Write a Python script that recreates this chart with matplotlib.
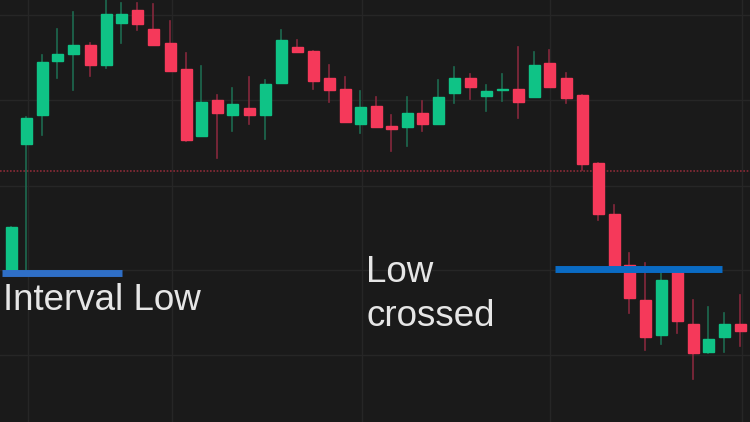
import matplotlib.pyplot as plt
from matplotlib.patches import Rectangle

# price units: 422 - pixel row of the reference
xs = [11, 26, 42, 57, 73, 90, 106, 121, 137, 153, 170, 186, 201, 217, 232, 249,
      265, 281, 297, 313, 329, 345, 360, 376, 391, 407, 422, 438, 454, 470, 486,
      502, 518, 534, 549, 566, 582, 598, 614, 629, 645, 661, 677, 693, 708, 724, 740]
ys_open = [270, 144, 115, 61, 54, 45, 65, 23, 10, 29, 43, 69, 136, 100, 115, 108,
           115, 83, 47, 51, 78, 89, 124, 106, 126, 127, 113, 124, 93, 78, 96,
           90, 89, 97, 63, 78, 95, 163, 214, 265, 300, 335, 270, 324, 352, 337, 324]
ys_close = [227, 118, 62, 54, 45, 65, 14, 14, 24, 45, 71, 140, 102, 113, 104, 115,
            84, 40, 52, 81, 90, 122, 107, 127, 129, 113, 124, 97, 78, 87, 91,
            89, 102, 65, 87, 98, 164, 214, 267, 298, 337, 280, 321, 353, 339, 324, 331]
ys_high = [227, 117, 55, 29, 12, 43, 0, 3, 3, 4, 21, 53, 66, 95, 88, 77,
           80, 30, 40, 51, 65, 77, 91, 97, 115, 97, 101, 80, 67, 74, 85,
           74, 47, 52, 50, 73, 95, 163, 205, 253, 263, 273, 270, 300, 307, 313, 295]
ys_low = [270, 270, 135, 78, 90, 76, 68, 43, 30, 45, 71, 141, 136, 158, 131, 124,
          139, 83, 52, 89, 102, 122, 133, 127, 151, 146, 131, 124, 103, 99, 111,
          101, 118, 97, 87, 103, 170, 220, 267, 313, 350, 344, 333, 379, 353, 352, 346]

o = [422 - v for v in ys_open]
c = [422 - v for v in ys_close]
h = [422 - v for v in ys_high]
l = [422 - v for v in ys_low]

bg = '#1a1a1a'
up, down = '#0fc386', '#f5395a'
up_w, down_w = '#1d6a50', '#86283c'

fig = plt.figure(figsize=(7.5, 4.22), dpi=100)
fig.patch.set_facecolor(bg)
ax = fig.add_axes([0, 0, 1, 1])
ax.set_facecolor(bg)
ax.set_xlim(0, 750)
ax.set_ylim(0, 422)
ax.axis('off')

for gy in [15, 100, 186, 270, 355]:
    ax.axhline(422 - gy, color='#262626', lw=1, zorder=0)
for gx in [28, 172, 362, 550, 742]:
    ax.axvline(gx, color='#262626', lw=1, zorder=0)

ax.axhline(422 - 171, color='#8a2a36', lw=1.2, ls=(0, (1, 1)), zorder=1)

for x, op, cl, hi, lo in zip(xs, o, c, h, l):
    isup = cl >= op
    ax.plot([x, x], [lo, hi], color=up_w if isup else down_w, lw=1.2, zorder=2)
    b = min(op, cl)
    ht = max(abs(cl - op), 1.5)
    ax.add_patch(Rectangle((x - 5.5, b), 11, ht, color=up if isup else down, zorder=3))

ax.plot([2, 122], [422 - 273, 422 - 273], color='#2f6fc7', lw=5, solid_capstyle='butt', zorder=4)
ax.plot([555, 722], [422 - 269, 422 - 269], color='#0a6bc4', lw=5, solid_capstyle='butt', zorder=4)

font = ['Liberation Sans', 'DejaVu Sans']
ax.text(3, 422 - 301, 'Interval Low', color='#e6e6e6', fontsize=26.5, va='center', ha='left',
        family=font)
ax.text(366, 422 - 272, 'Low', color='#e6e6e6', fontsize=26.5, va='center', ha='left', family=font)
ax.text(366, 422 - 317, 'crossed', color='#e6e6e6', fontsize=26.5, va='center', ha='left', family=font)

fig.savefig('out.png', dpi=100, facecolor=bg)
